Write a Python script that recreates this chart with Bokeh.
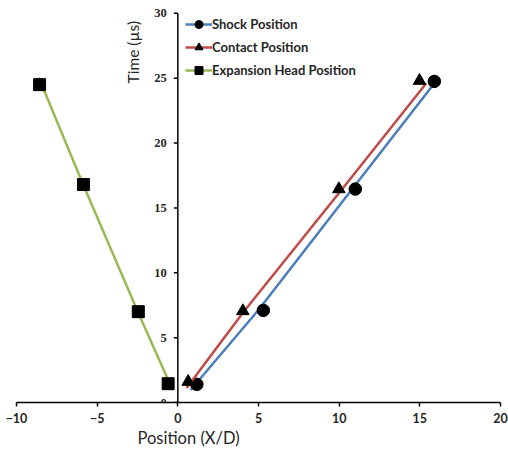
from bokeh.plotting import figure
from bokeh.models import (Range1d, Label, LabelSet, ColumnDataSource, Legend,
                          LegendItem, FixedTicker, Title)
from bokeh.embed import file_html
from bokeh.resources import INLINE

# ---- data ----
shock_x = [1.18, 5.3, 11.0, 15.9]
shock_y = [1.4, 7.1, 16.45, 24.75]
contact_x = [0.64, 4.03, 9.98, 14.98]
contact_y = [1.6, 7.05, 16.45, 24.8]
expansion_x = [-0.6, -2.45, -5.85, -8.57]
expansion_y = [1.45, 7.0, 16.8, 24.5]

# fitted curves (drawn as lines)
shock_line_x = [0.79, 4.96, 10.81, 15.77]
shock_line_y = [0.96, 7.07, 16.45, 24.4]
contact_line_x = [0.54, 4.13, 10.19, 15.4]
contact_line_y = [1.11, 7.07, 16.45, 24.6]
expansion_line_x = [-0.66, -2.48, -5.87, -8.62]
expansion_line_y = [1.9, 7.0, 16.8, 25.05]

xticks = [-10, -5, 0, 5, 10, 15, 20]
yticks = [0, 5, 10, 15, 20, 25, 30]

BLUE = "#4A7EBB"
RED = "#BE4B48"
GREEN = "#98B954"
TXT = "#262626"
FONT = "Lato"

p = figure(width=508, height=450, output_backend="svg", toolbar_location=None,
           x_range=Range1d(-10, 20), y_range=Range1d(0, 30.6),
           y_axis_location=None, min_border_left=16, min_border_right=8,
           min_border_top=5, min_border_bottom=48)
p.grid.visible = False
p.outline_line_color = None
p.background_fill_color = "white"

# bottom axis
ax = p.xaxis[0]
ax.ticker = FixedTicker(ticks=xticks)
ax.axis_line_color = "black"
ax.axis_line_width = 1.5
ax.major_tick_line_color = "black"
ax.major_tick_line_width = 1.5
ax.major_tick_in = 0
ax.major_tick_out = 4
ax.minor_tick_line_color = None
ax.major_label_text_font = FONT
ax.major_label_text_font_style = "bold"
ax.major_label_text_font_size = "12.5px"
ax.major_label_text_color = TXT
ax.major_label_standoff = 6

# y axis drawn at x = 0
p.segment(x0=[0], x1=[0], y0=[min(yticks)], y1=[max(yticks)],
          line_color="black", line_width=1.5)
tick_len = 4 * 30 / 484.0
p.segment(x0=[0] * len(yticks), x1=[-tick_len] * len(yticks), y0=yticks, y1=yticks,
          line_color="black", line_width=1.5)
ysrc = ColumnDataSource(dict(x=[0] * len(yticks), y=yticks, t=[str(v) for v in yticks]))
p.add_layout(LabelSet(x="x", y="y", text="t", source=ysrc, x_offset=-11,
                      text_align="right", text_baseline="middle",
                      text_font=FONT, text_font_style="bold", text_font_size="12.5px",
                      text_color=TXT))

# axis titles
p.add_layout(Label(x=-2.77, y=27.0, text="Time (µs)", angle=1.5708,
                   text_align="center", text_baseline="middle",
                   text_font=FONT, text_font_size="15.5px", text_color=TXT))
p.add_layout(Title(text="Position (X/D)", align="left", offset=121, standoff=1,
                   text_font=FONT, text_font_size="16.5px", text_font_style="normal",
                   text_color=TXT), "below")

# series
l1 = p.line(shock_line_x, shock_line_y, line_color=BLUE, line_width=2.5)
m1 = p.scatter(shock_x, shock_y, marker="circle", size=12.5, fill_color="black", line_color="black")
l2 = p.line(contact_line_x, contact_line_y, line_color=RED, line_width=2.5)
m2 = p.scatter(contact_x, contact_y, marker="triangle", size=12.5, fill_color="black", line_color="black")
l3 = p.line(expansion_line_x, expansion_line_y, line_color=GREEN, line_width=2.5)
m3 = p.scatter(expansion_x, expansion_y, marker="square", size=12, fill_color="black", line_color="black")

legend = Legend(items=[LegendItem(label="Shock Position", renderers=[l1, m1]),
                       LegendItem(label="Contact Position", renderers=[l2, m2]),
                       LegendItem(label="Expansion Head Position", renderers=[l3, m3])],
                location=(169, 322), border_line_color=None, background_fill_alpha=0,
                padding=0, margin=0, spacing=3, glyph_width=27, glyph_height=20,
                label_standoff=0, label_text_font=FONT, label_text_font_style="bold",
                label_text_font_size="13px", label_text_color=TXT)
p.add_layout(legend)

open("out.html", "w").write(file_html(p, INLINE))
